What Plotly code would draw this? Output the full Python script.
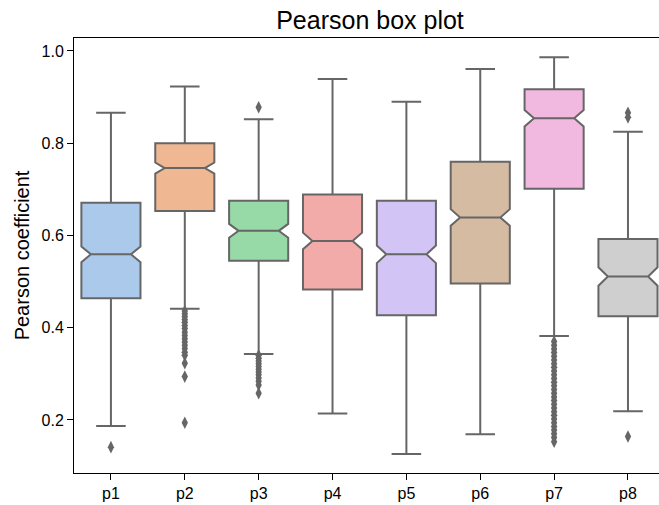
import colorsys
import plotly.graph_objects as go

# ---- data ----
categories = ["p1", "p2", "p3", "p4", "p5", "p6", "p7", "p8"]
q1 = [0.464, 0.653, 0.545, 0.483, 0.427, 0.496, 0.701, 0.425]
median = [0.559, 0.746, 0.610, 0.588, 0.559, 0.639, 0.854, 0.511]
q3 = [0.671, 0.800, 0.675, 0.689, 0.675, 0.760, 0.917, 0.592]
lower_whisker = [0.187, 0.441, 0.343, 0.214, 0.126, 0.169, 0.382, 0.219]
upper_whisker = [0.866, 0.923, 0.852, 0.939, 0.890, 0.961, 0.986, 0.825]
notch_half = [0.017, 0.012, 0.015, 0.018, 0.019, 0.018, 0.018, 0.020]

outliers_p1 = [0.141]
outliers_p2 = [0.436, 0.430, 0.424, 0.418, 0.412, 0.405, 0.398, 0.390, 0.383,
               0.376, 0.369, 0.362, 0.355, 0.347, 0.340, 0.323, 0.294, 0.194]
outliers_p3 = [0.878, 0.340, 0.334, 0.328, 0.322, 0.316, 0.310, 0.304, 0.298,
               0.291, 0.284, 0.276, 0.258]
outliers_p4 = []
outliers_p5 = []
outliers_p6 = []
outliers_p7 = [0.370, 0.362, 0.354, 0.346, 0.338, 0.330, 0.322, 0.314, 0.306,
               0.298, 0.290, 0.282, 0.274, 0.266, 0.258, 0.250, 0.242, 0.234,
               0.226, 0.218, 0.210, 0.202, 0.194, 0.186, 0.178, 0.170, 0.162, 0.153]
outliers_p8 = [0.866, 0.856, 0.164]
outliers = [outliers_p1, outliers_p2, outliers_p3, outliers_p4,
            outliers_p5, outliers_p6, outliers_p7, outliers_p8]

# seaborn "pastel" palette, desaturated like seaborn boxplot (saturation .75)
pastel = ["#a1c9f4", "#ffb482", "#8de5a1", "#ff9f9b",
          "#d0bbff", "#debb9b", "#fab0e4", "#cfcfcf"]


def desat(hexc, prop=0.75):
    r, g, b = (int(hexc[i:i + 2], 16) / 255 for i in (1, 3, 5))
    h, l, s = colorsys.rgb_to_hls(r, g, b)
    r, g, b = colorsys.hls_to_rgb(h, l, s * prop)
    return "rgb(%d,%d,%d)" % (round(r * 255), round(g * 255), round(b * 255))


line_col = "#666666"
fig = go.Figure()
for i, cat in enumerate(categories):
    fig.add_trace(go.Box(
        x=[i], q1=[q1[i]], median=[median[i]], q3=[q3[i]],
        lowerfence=[lower_whisker[i]], upperfence=[upper_whisker[i]],
        notchspan=[notch_half[i]], notched=True, notchwidth=0.16,
        width=0.8, whiskerwidth=0.5, boxpoints=False,
        fillcolor=desat(pastel[i]),
        line=dict(color=line_col, width=2),
        name=cat, showlegend=False, hoverinfo="skip",
    ))
    if outliers[i]:
        fig.add_trace(go.Scatter(
            x=[i] * len(outliers[i]), y=outliers[i], mode="markers",
            marker=dict(symbol="diamond-tall", size=9, color=line_col,
                        line=dict(width=0)),
            showlegend=False, hoverinfo="skip",
        ))

fig.update_layout(
    width=659, height=505,
    margin=dict(l=74, r=0, t=38, b=32),
    paper_bgcolor="white", plot_bgcolor="white",
    boxmode="overlay",
    font=dict(family="Liberation Sans, Arial, sans-serif", color="black"),
    title=dict(text="Pearson box plot", x=370 / 659, xref="container",
               xanchor="center", y=1 - 20 / 505, yref="container",
               yanchor="middle", font=dict(size=25)),
)
fig.update_xaxes(
    range=[-0.5, 7.42], tickmode="array", tickvals=list(range(len(categories))),
    ticktext=categories, showgrid=False, zeroline=False,
    showline=True, linecolor="black", linewidth=1, mirror=True,
    ticks="outside", ticklen=6, tickcolor="black", tickfont=dict(size=16),
)
fig.update_yaxes(
    range=[0.085, 1.028], tickvals=[0.2, 0.4, 0.6, 0.8, 1.0],
    ticktext=["0.2", "0.4", "0.6", "0.8", "1.0"],
    showgrid=False, zeroline=False,
    showline=True, linecolor="black", linewidth=1,
    ticks="outside", ticklen=6, tickcolor="black", tickfont=dict(size=16),
    title=dict(text="Pearson coefficient", font=dict(size=20), standoff=6),
)
fig.write_html("out.html")
